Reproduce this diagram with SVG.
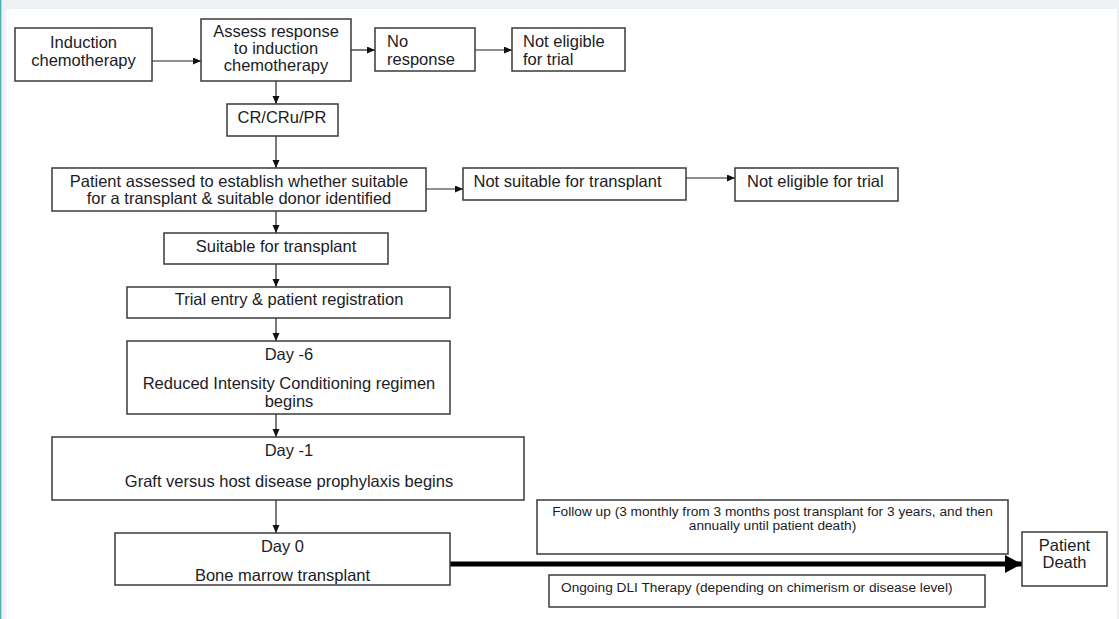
<svg xmlns="http://www.w3.org/2000/svg" width="1119" height="619" viewBox="0 0 1119 619">
<style>
.box{fill:#fff;stroke:#3a3a3a;stroke-width:1.5}
.t{font-family:"Liberation Sans",Arial,sans-serif;font-size:16.5px;fill:#1c1c26}
.c{text-anchor:middle}
.s{font-size:13.7px}
.cn{stroke:#222;stroke-width:1.2;fill:none;marker-end:url(#ah)}
</style>
<defs>
<marker id="ah" markerUnits="userSpaceOnUse" markerWidth="9" markerHeight="8" refX="8" refY="3.5" orient="auto">
<path d="M0,0 L8,3.5 L0,7 z" fill="#111"/>
</marker>
<marker id="big" markerUnits="userSpaceOnUse" markerWidth="18" markerHeight="18" refX="17" refY="9" orient="auto">
<path d="M0,0 L17,9 L0,18 z" fill="#000"/>
</marker>
</defs>
<rect x="0" y="0" width="1119" height="619" fill="#fff"/>
<rect x="0" y="0" width="1119" height="9" fill="#edf1f3"/>
<rect x="1.4" y="0" width="4.5" height="619" fill="#edf1f3"/>
<rect x="1117" y="0" width="2" height="619" fill="#edf1f3"/>
<rect x="0" y="0" width="1.4" height="619" fill="#4db0b3"/>

<g id="connectors">
<line class="cn" x1="152" y1="61" x2="201" y2="61"/>
<line class="cn" x1="351" y1="50" x2="375" y2="50"/>
<line class="cn" x1="475" y1="50" x2="512" y2="50"/>
<line class="cn" x1="276" y1="81" x2="276" y2="104"/>
<line class="cn" x1="276" y1="136" x2="276" y2="168"/>
<line class="cn" x1="426" y1="189" x2="463" y2="189"/>
<line class="cn" x1="686" y1="178" x2="735" y2="178"/>
<line class="cn" x1="276" y1="211" x2="276" y2="233"/>
<line class="cn" x1="276" y1="264" x2="276" y2="287"/>
<line class="cn" x1="276" y1="318" x2="276" y2="341"/>
<line class="cn" x1="276" y1="414" x2="276" y2="437"/>
<line class="cn" x1="276" y1="500" x2="276" y2="533"/>
<line x1="450" y1="564" x2="1022" y2="564" stroke="#000" stroke-width="5" marker-end="url(#big)"/>
</g>

<g id="induction">
<rect class="box" x="15" y="28" width="137" height="53"/>
<text class="t c" x="83.5" y="48">Induction</text>
<text class="t c" x="83.5" y="66">chemotherapy</text>
</g>
<g id="assess">
<rect class="box" x="201" y="19" width="150" height="62"/>
<text class="t c" x="276" y="37">Assess response</text>
<text class="t c" x="276" y="54">to induction</text>
<text class="t c" x="276" y="71">chemotherapy</text>
</g>
<g id="noresponse">
<rect class="box" x="375" y="28" width="100" height="43"/>
<text class="t" x="387" y="47">No</text>
<text class="t" x="387" y="65">response</text>
</g>
<g id="noteligible1">
<rect class="box" x="512" y="28" width="113" height="43"/>
<text class="t" x="523" y="47">Not eligible</text>
<text class="t" x="523" y="65">for trial</text>
</g>
<g id="cr">
<rect class="box" x="227" y="104" width="111" height="32"/>
<text class="t c" x="282" y="123">CR/CRu/PR</text>
</g>
<g id="patientassessed">
<rect class="box" x="52" y="168" width="374" height="43"/>
<text class="t c" x="239" y="187">Patient assessed to establish whether suitable</text>
<text class="t c" x="239" y="203.5">for a transplant &amp; suitable donor identified</text>
</g>
<g id="notsuitable">
<rect class="box" x="463" y="168" width="223" height="32"/>
<text class="t" x="473.5" y="187">Not suitable for transplant</text>
</g>
<g id="noteligible2">
<rect class="box" x="735" y="168" width="163" height="33"/>
<text class="t" x="747" y="186.5">Not eligible for trial</text>
</g>
<g id="suitable">
<rect class="box" x="164" y="233" width="224" height="31"/>
<text class="t c" x="276" y="252">Suitable for transplant</text>
</g>
<g id="trialentry">
<rect class="box" x="127" y="287" width="323" height="31"/>
<text class="t c" x="289" y="305">Trial entry &amp; patient registration</text>
</g>
<g id="day6">
<rect class="box" x="127" y="341" width="323" height="73"/>
<text class="t c" x="289" y="359.5">Day -6</text>
<text class="t c" x="289" y="389">Reduced Intensity Conditioning regimen</text>
<text class="t c" x="289" y="407">begins</text>
</g>
<g id="day1">
<rect class="box" x="52" y="437" width="472" height="63"/>
<text class="t c" x="289" y="456">Day -1</text>
<text class="t c" x="289" y="487">Graft versus host disease prophylaxis begins</text>
</g>
<g id="day0">
<rect class="box" x="115" y="533" width="335" height="52"/>
<text class="t c" x="282.5" y="552">Day 0</text>
<text class="t c" x="282.5" y="581">Bone marrow transplant</text>
</g>
<g id="followup">
<rect class="box" x="537" y="500" width="471" height="54"/>
<text class="t s c" x="772.5" y="515.5">Follow up (3 monthly from 3 months post transplant for 3 years, and then</text>
<text class="t s c" x="772.5" y="529.5">annually until patient death)</text>
</g>
<g id="dli">
<rect class="box" x="549" y="575" width="436" height="32"/>
<text class="t s" x="561" y="592">Ongoing DLI Therapy (depending on chimerism or disease level)</text>
</g>
<g id="death">
<rect class="box" x="1022" y="532" width="85" height="54"/>
<text class="t c" x="1064.5" y="551">Patient</text>
<text class="t c" x="1064.5" y="568">Death</text>
</g>
</svg>
